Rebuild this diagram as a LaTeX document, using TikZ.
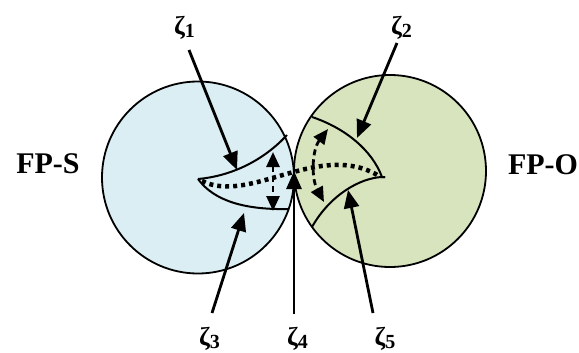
\documentclass[tikz,border=0pt]{standalone}
\usepackage{fontspec}
\setmainfont{Liberation Serif}
\usetikzlibrary{arrows.meta}
\definecolor{fpsfill}{HTML}{DAEEF3}
\definecolor{fpofill}{HTML}{D7E4BD}
\newcommand{\zl}[1]{{\fontsize{26}{26}\selectfont\bfseries ζ}\raisebox{-2.5pt}{\fontsize{20}{20}\selectfont\bfseries #1}}
\tikzset{
  disc/.style={circle, draw=black, line width=1.8pt, minimum size=192pt, inner sep=0pt},
  lensline/.style={line width=2pt, draw=black},
  pointer/.style={line width=2.8pt, -{Triangle[length=18pt,width=15pt]}},
  zlabel/.style={inner sep=0pt, anchor=center},
  bigtext/.style={inner sep=0pt, font=\fontsize{30}{30}\selectfont\bfseries},
  dotpath/.style={line width=4.5pt, dash pattern=on 4pt off 4pt},
  swing/.style={line width=2.8pt, dash pattern=on 6pt off 4pt, {Triangle[length=15pt,width=13pt]}-{Triangle[length=15pt,width=13pt]}}
}
\begin{document}
\begin{tikzpicture}[x=1pt,y=-1pt]
\useasboundingbox (0,0) rectangle (579,353);
% circles
\node[disc, fill=fpsfill] (cs) at (198,177.5) {};
\node[disc, fill=fpofill] (co) at (390,171) {};
% lens coordinates
\coordinate (la) at (198,179);
\coordinate (lu) at (287,135);
\coordinate (ll) at (289,209);
\coordinate (ra) at (385,177);
\coordinate (ru) at (312,117);
\coordinate (rl) at (312,227);
% left lens
\draw[lensline] (la) .. controls (232,176) and (264,160) .. (lu);
\draw[lensline] (la) .. controls (214,201) and (245,210) .. (ll);
% right lens
\draw[lensline] (ru) .. controls (345,128) and (372,150) .. (382,177) -- (ra);
\draw[lensline] (ra) -- (382,177) .. controls (360,178) and (330,195) .. (rl);
% dotted path
\draw[dotpath] (202,181) .. controls (250,205) and (320,140) .. (379,176);
% dashed double arrows
\coordinate (lsu) at (273,152);
\coordinate (lsd) at (273,211);
\draw[swing] (lsu) -- (lsd);
\coordinate (rsu) at (328,129);
\coordinate (rsd) at (324,202);
\draw[swing] (rsu) .. controls (312,150) and (311,178) .. (rsd);
% labels
\node[bigtext] (fps) at (48,163.5) {FP-S};
\node[bigtext] (fpo) at (543,164.5) {FP-O};
\node[zlabel] (z1) at (184.5,28) {\zl{1}};
\node[zlabel] (z2) at (401.5,28) {\zl{2}};
\node[zlabel] (z3) at (209.5,339) {\zl{3}};
\node[zlabel] (z4) at (297.5,339) {\zl{4}};
\node[zlabel] (z5) at (385,339) {\zl{5}};
% pointer arrows
\coordinate (s1) at (189,50);
\coordinate (t1) at (237,170);
\coordinate (s2) at (397,43);
\coordinate (t2) at (357,138);
\coordinate (s3) at (212,313);
\coordinate (t3) at (244,213);
\coordinate (s4) at (294,314);
\coordinate (t4) at (294,171);
\coordinate (s5) at (373,313);
\coordinate (t5) at (348,190);
\draw[pointer] (s1) -- (t1);
\draw[pointer] (s2) -- (t2);
\draw[pointer] (s3) -- (t3);
\draw[pointer] (s4) -- (t4);
\draw[pointer] (s5) -- (t5);
\end{tikzpicture}
\end{document}
